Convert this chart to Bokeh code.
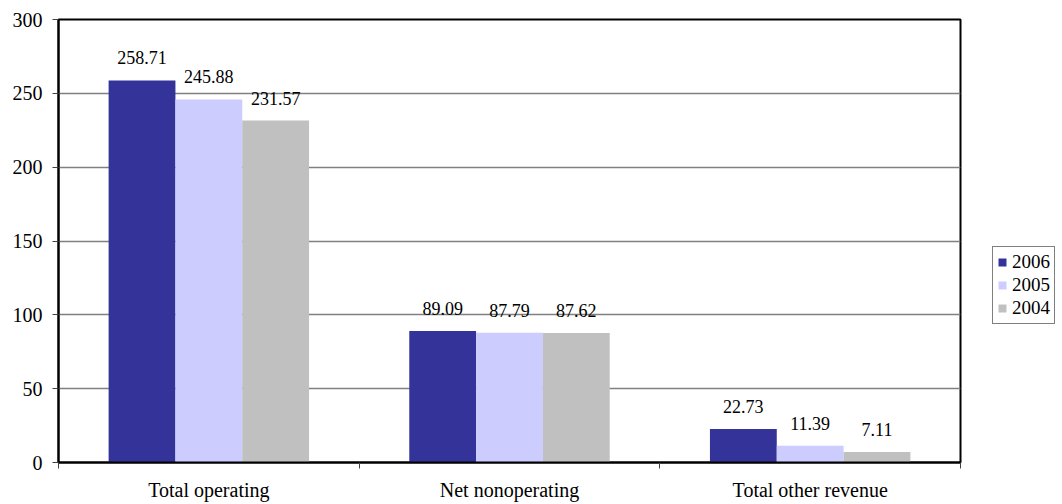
from bokeh.plotting import figure
from bokeh.models import ColumnDataSource, Range1d, FixedTicker, Legend, LegendItem
from bokeh.transform import dodge
from bokeh.core.properties import value
from bokeh.embed import file_html
from bokeh.resources import INLINE

categories = ["Total operating", "Net nonoperating", "Total other revenue"]
years = ["2006", "2005", "2004"]
v2006 = [258.71, 89.09, 22.73]
v2005 = [245.88, 87.79, 11.39]
v2004 = [231.57, 87.62, 7.11]
colors = ["#333399", "#CCCCFF", "#C0C0C0"]
y_ticks = [0, 50, 100, 150, 200, 250, 300]

xc = [i + 0.5 for i in range(len(categories))]
src = ColumnDataSource(dict(
    x=xc, v2006=v2006, v2005=v2005, v2004=v2004,
    l2006=["%.2f" % v for v in v2006],
    l2005=["%.2f" % v for v in v2005],
    l2004=["%.2f" % v for v in v2004],
))

FONT = "Liberation Serif"
p = figure(frame_width=902, frame_height=443, output_backend="svg", toolbar_location=None,
           x_range=Range1d(0, 3), y_range=Range1d(0, 300),
           min_border_left=58, min_border_right=0, min_border_top=19, min_border_bottom=34)
p.outline_line_color = "black"
p.outline_line_width = 2
p.background_fill_color = "white"
p.border_fill_color = "white"

bw = 2 / 9
offsets = [-bw, 0, bw]
series = ["v2006", "v2005", "v2004"]
labels = ["l2006", "l2005", "l2004"]
items = []
for s, lab, off, col, yr in zip(series, labels, offsets, colors, years):
    r = p.vbar(x=dodge("x", off, range=p.x_range), top=s, width=bw, bottom=0,
               source=src, fill_color=col, line_color=None)
    items.append(LegendItem(label=yr, renderers=[r]))
    p.text(x=dodge("x", off, range=p.x_range), y=s, text=lab, source=src,
           text_align="center", text_baseline="bottom", y_offset=-16,
           text_font=value(FONT), text_font_size="18px", text_color="black")

# grid
p.xgrid.grid_line_color = None
p.ygrid.grid_line_color = "#808080"
p.ygrid.grid_line_width = 1.5
p.ygrid.ticker = FixedTicker(ticks=y_ticks)

# y axis
p.yaxis.ticker = FixedTicker(ticks=y_ticks)
p.yaxis.axis_line_color = "black"
p.yaxis.axis_line_width = 2
p.yaxis.major_tick_out = 6
p.yaxis.major_tick_in = 0
p.yaxis.major_tick_line_color = "#404040"
p.yaxis.minor_tick_line_color = None
p.yaxis.major_label_standoff = 10
p.yaxis.major_label_text_font = FONT
p.yaxis.major_label_text_font_size = "20px"
p.yaxis.major_label_text_color = "black"

# x axis
p.xaxis.ticker = FixedTicker(ticks=xc, minor_ticks=[0, 1, 2, 3])
p.xaxis.major_label_overrides = {x: c for x, c in zip(xc, categories)}
p.xaxis.axis_line_color = "black"
p.xaxis.axis_line_width = 2
p.xaxis.major_tick_line_color = None
p.xaxis.major_tick_out = 0
p.xaxis.major_tick_in = 0
p.xaxis.minor_tick_out = 6
p.xaxis.minor_tick_in = 0
p.xaxis.minor_tick_line_color = "#404040"
p.xaxis.major_label_standoff = 10
p.xaxis.major_label_text_font = FONT
p.xaxis.major_label_text_font_size = "20px"
p.xaxis.major_label_text_color = "black"

legend = Legend(items=items, location=(32, 138), orientation="vertical",
                label_text_font=FONT, label_text_font_size="19px",
                label_text_color="black", glyph_width=10, glyph_height=10,
                label_height=15, spacing=1, padding=4, margin=0, label_standoff=5,
                border_line_color="black", border_line_width=1,
                background_fill_color="white", background_fill_alpha=1)
p.add_layout(legend, "right")

open("out.html", "w").write(file_html(p, INLINE))
